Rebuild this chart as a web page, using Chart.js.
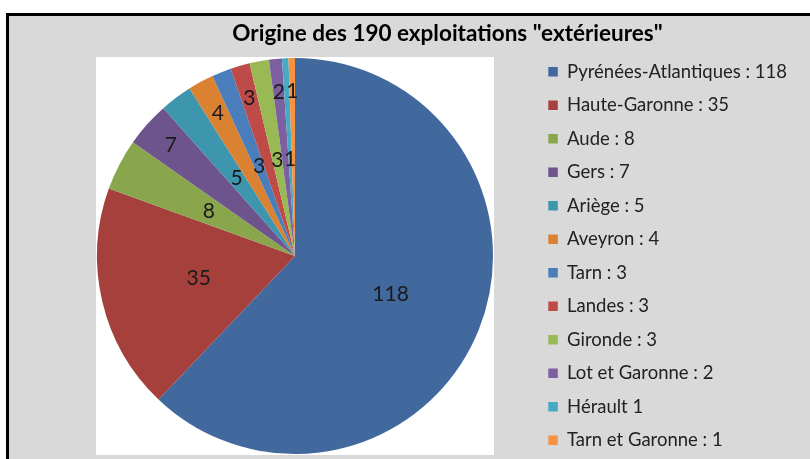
<!DOCTYPE html>
<html lang="fr">
<head>
<meta charset="utf-8">
<title>Origine des 190 exploitations "extérieures"</title>
<script src="https://cdn.jsdelivr.net/npm/chart.js@4.4.1/dist/chart.umd.min.js"></script>
<style>
  html, body {
    margin: 0;
    padding: 0;
    width: 810px;
    height: 459px;
    overflow: hidden;
    background: #fff;
  }
  .frame {
    position: absolute;
    left: 6px;
    top: 13px;
    width: 801px;
    height: 443px;
    background: #d9d9d9;
    border-top: 3px solid #000;
    border-left: 3px solid #000;
  }
  #pie {
    position: absolute;
    left: 0;
    top: 0;
  }
</style>
</head>
<body>
<div class="frame"></div>
<canvas id="pie" width="810" height="500"></canvas>
<script>
const chartTitle = 'Origine des 190 exploitations "extérieures"';

const regions = [
  "Pyrénées-Atlantiques : 118",
  "Haute-Garonne : 35",
  "Aude : 8",
  "Gers : 7",
  "Ariège : 5",
  "Aveyron : 4",
  "Tarn : 3",
  "Landes : 3",
  "Gironde : 3",
  "Lot et Garonne : 2",
  "Hérault 1",
  "Tarn et Garonne : 1"
];

const farms = [118, 35, 8, 7, 5, 4, 3, 3, 3, 2, 1, 1];

const sliceColors = [
  "#41699e", "#a5403d", "#8aa64d", "#6e548d", "#3d96ae", "#da8132",
  "#4a7ebb", "#be4b48", "#98b954", "#7d60a0", "#46aac5", "#f69240"
];

// how far out each value label sits, as a share of the radius (Excel staggers the small ones)
const labelDepth = [0.52, 0.5, 0.49, 0.84, 0.49, 0.82, 0.49, 0.83, 0.49, 0.83, 0.49, 0.83];

const fontFamily = "Lato, Carlito, 'Open Sans', sans-serif";
const legendFontSize = 18.5;
const legendGap = 15;
const legendBox = 9.5;
const legendMarkerX = 548.3;
const pieCenterX = 295;
const pieRadius = 198;
const titleCenterX = 447.5;
const titleBaseline = 40.5;

function widestText(texts, font) {
  const probe = document.createElement("canvas").getContext("2d");
  probe.font = font;
  return Math.max(...texts.map((text) => probe.measureText(text).width));
}

const canvas = document.getElementById("pie");
const chartRight = legendMarkerX - legendGap;
const legendWidth = legendGap + legendBox + legendFontSize / 2
  + widestText(regions, `${legendFontSize}px ${fontFamily}`) + 10;

const plotBackground = {
  id: "plotBackground",
  beforeDatasetsDraw(chart) {
    const arc = chart.getDatasetMeta(0).data[0];
    if (!arc) {
      return;
    }
    const { x, y, outerRadius } = arc.getProps(["x", "y", "outerRadius"], true);
    const half = outerRadius + 1;
    const ctx = chart.ctx;
    ctx.save();
    ctx.fillStyle = "#ffffff";
    ctx.fillRect(x - half, y - half, half * 2, half * 2);
    ctx.restore();
  }
};

const sliceLabels = {
  id: "sliceLabels",
  afterDatasetsDraw(chart) {
    const ctx = chart.ctx;
    const values = chart.data.datasets[0].data;
    ctx.save();
    ctx.font = `21px ${fontFamily}`;
    ctx.fillStyle = "#1a1a1a";
    ctx.textAlign = "center";
    ctx.textBaseline = "middle";
    chart.getDatasetMeta(0).data.forEach((arc, i) => {
      const { x, y, startAngle, endAngle, outerRadius } =
        arc.getProps(["x", "y", "startAngle", "endAngle", "outerRadius"], true);
      const mid = (startAngle + endAngle) / 2;
      const r = outerRadius * labelDepth[i];
      ctx.fillText(String(values[i]), x + Math.cos(mid) * r, y + Math.sin(mid) * r);
    });
    ctx.restore();
  }
};

const chartHeading = {
  id: "chartHeading",
  afterDraw(chart) {
    const ctx = chart.ctx;
    ctx.save();
    ctx.font = `bold 22.5px ${fontFamily}`;
    ctx.fillStyle = "#000";
    ctx.textAlign = "center";
    ctx.textBaseline = "alphabetic";
    ctx.fillText(chartTitle, titleCenterX, titleBaseline);
    ctx.restore();
  }
};

new Chart(canvas, {
  type: "pie",
  data: {
    labels: regions,
    datasets: [
      {
        data: farms,
        backgroundColor: sliceColors,
        borderWidth: 0,
        radius: pieRadius
      }
    ]
  },
  options: {
    responsive: false,
    animation: false,
    events: [],
    layout: {
      padding: {
        left: 2 * pieCenterX - chartRight,
        right: canvas.width - chartRight - legendWidth,
        top: 20,
        bottom: 8
      }
    },
    plugins: {
      title: { display: false },
      tooltip: { enabled: false },
      legend: {
        display: true,
        position: "right",
        align: "center",
        labels: {
          boxWidth: legendBox,
          boxHeight: legendBox,
          padding: legendGap,
          color: "#222",
          font: { family: fontFamily, size: legendFontSize }
        }
      }
    }
  },
  plugins: [plotBackground, sliceLabels, chartHeading]
});
</script>
</body>
</html>
